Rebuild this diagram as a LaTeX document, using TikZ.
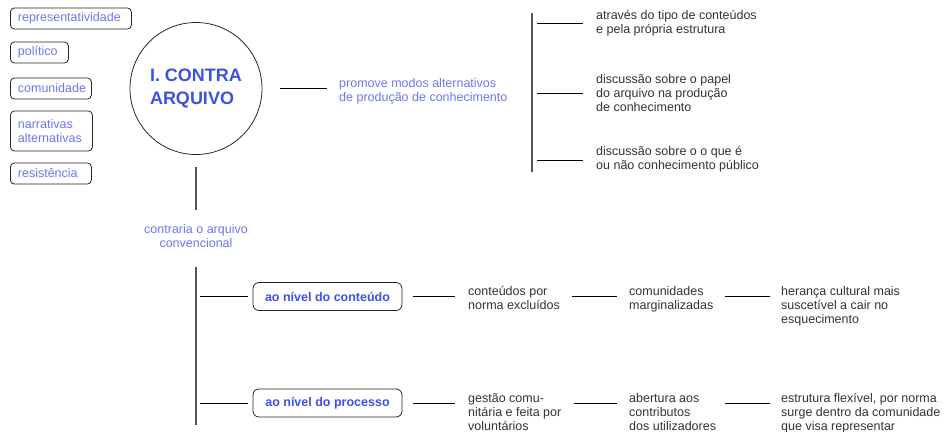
\documentclass[tikz,border=0pt]{standalone}
\usepackage{fontspec}
\setmainfont{Liberation Sans}
\definecolor{lblue}{HTML}{6E76F0}
\definecolor{dblue}{HTML}{3E50E6}
\definecolor{txtgrey}{HTML}{333333}
\definecolor{vgrey}{HTML}{555555}
\newcommand\fsn{\fontsize{12.5}{14}\selectfont}
\newcommand\fst{\rule{0pt}{10pt}}
\tikzset{
  lbox/.style={draw=black!85, line width=0.8pt, rounded corners=4pt, anchor=west,
    inner xsep=7.5pt, inner ysep=0pt, minimum height=21pt, align=left, font=\fsn, text=lblue},
  bbox/.style={draw=black!85, line width=0.8pt, rounded corners=6pt, minimum width=149pt,
    minimum height=28pt, inner sep=0pt, font=\fsn\bfseries, text=dblue},
  txt/.style={anchor=north west, inner sep=0pt, align=left, font=\fsn, text=txtgrey},
  btxt/.style={txt, text=lblue},
  hline/.style={draw=black, line width=0.8pt},
  vline/.style={draw=vgrey, line width=1.1pt},
}
\begin{document}
\begin{tikzpicture}[x=1pt,y=1pt]
\useasboundingbox (0,0) rectangle (944,-431);

% left boxes
\node[lbox, text width=106pt] (k1) at (10,-18.5) {representatividade};
\node[lbox, text width=43pt] (k2) at (10,-52.5) {político};
\node[lbox, text width=66pt] (k3) at (10,-88.5) {comunidade};
\node[lbox, text width=67pt, minimum height=40pt] (k4) at (10,-131) {narrativas\\alternativas};
\node[lbox, text width=66pt] (k5) at (10,-173.5) {resistência};

% circle
\node[circle, draw=black!85, line width=0.8pt, minimum size=132pt, inner sep=0pt,
  align=left, text=dblue, font=\fontsize{18}{23}\selectfont\bfseries] (circ) at (196,-88.5)
  {I. CONTRA\\ARQUIVO};

% promove
\node[btxt] (prom) at (339,-77) {\fst promove modos alternativos\\de produção de conhecimento};
\draw[hline, shorten <=18pt, shorten >=12pt] (circ.east) -- (circ.east -| prom.west);

% right bracket
\coordinate (brt) at (532,-13);
\coordinate (brb) at (532,-172);
\draw[vline] (brt) -- (brb);
\node[txt] (r1) at (596,-9) {\fst através do tipo de conteúdos\\e pela própria estrutura};
\node[txt] (r2) at (596,-73) {\fst discussão sobre o papel\\do arquivo na produção\\de conhecimento};
\node[txt] (r3) at (596,-145) {\fst discussão sobre o o que é\\ou não conhecimento público};
\coordinate (q1) at (537,-23);
\coordinate (q2) at (537,-93);
\coordinate (q3) at (537,-160);
\draw[hline, shorten >=13pt] (q1) -- (q1 -| r1.west);
\draw[hline, shorten >=13pt] (q2) -- (q2 -| r2.west);
\draw[hline, shorten >=13pt] (q3) -- (q3 -| r3.west);

% contraria
\node[anchor=north, inner sep=0pt, align=center, font=\fsn, text=lblue] (contra) at (196,-223.5)
  {\fst contraria o arquivo\\convencional};
\draw[vline, shorten <=12.5pt, shorten >=13.5pt] (circ.south) -- (contra.north);
\coordinate (v2t) at (196,-267);
\coordinate (v2b) at (196,-425);
\draw[vline] (v2t) -- (v2b);

% level boxes
\node[bbox] (b1) at (327.5,-296.5) {ao nível do conteúdo};
\node[bbox] (b2) at (327.5,-403) {ao nível do processo};
\coordinate (s1) at (200,-296.5);
\coordinate (s2) at (200,-403);
\draw[hline, shorten >=5pt] (s1) -- (b1.west);
\draw[hline, shorten >=5pt] (s2) -- (b2.west);

% row 1
\node[txt] (t11) at (468,-285) {\fst conteúdos por\\norma excluídos};
\node[txt] (t12) at (629,-285) {\fst comunidades\\marginalizadas};
\node[txt] (t13) at (781,-285) {\fst herança cultural mais\\suscetível a cair no\\esquecimento};
\draw[hline, shorten <=11pt, shorten >=13pt] (b1.east) -- (b1.east -| t11.west);
\draw[hline, shorten <=12pt, shorten >=12pt] (t11.east |- b1.east) -- (t12.west |- b1.east);
\draw[hline, shorten <=12pt, shorten >=11pt] (t12.east |- b1.east) -- (t13.west |- b1.east);

% row 2
\node[txt] (t21) at (468,-392) {\fst gestão comu-\\nitária e feita por\\voluntários};
\node[txt] (t22) at (629,-392) {\fst abertura aos\\contributos\\dos utilizadores};
\node[txt] (t23) at (781,-392) {\fst estrutura flexível, por norma\\surge dentro da comunidade\\que visa representar};
\draw[hline, shorten <=11pt, shorten >=13pt] (b2.east) -- (b2.east -| t21.west);
\draw[hline, shorten <=12pt, shorten >=12pt] (t21.east |- b2.east) -- (t22.west |- b2.east);
\draw[hline, shorten <=9pt, shorten >=11pt] (t22.east |- b2.east) -- (t23.west |- b2.east);
\end{tikzpicture}
\end{document}
